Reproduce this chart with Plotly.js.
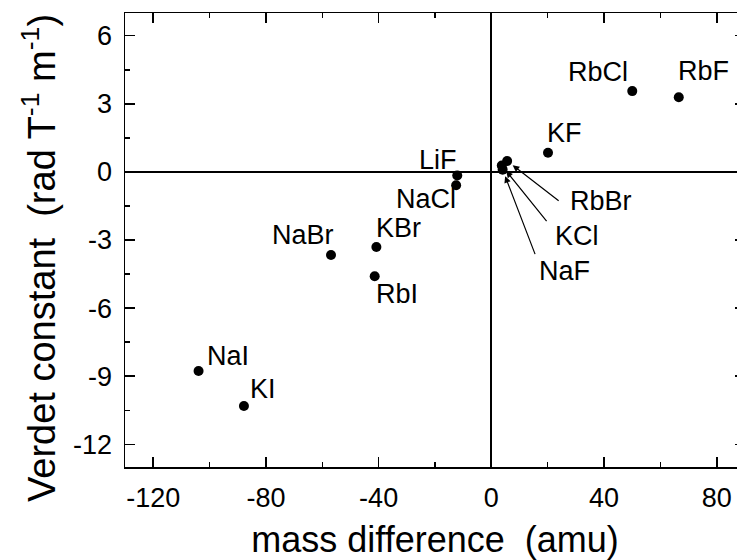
<!DOCTYPE html>
<html>
<head>
<meta charset="utf-8">
<script src="https://cdn.plot.ly/plotly-3.0.1.min.js"></script>
<style>
  html, body { margin: 0; padding: 0; overflow: hidden; background: #fff; }
  #chart { width: 760px; height: 560px; }
</style>
</head>
<body>
<div id="chart"></div>
<script>
// Alkali halides: cation-minus-anion mass difference vs Verdet constant
const salts    = ['RbF', 'RbCl', 'KF', 'RbBr', 'KCl', 'NaF', 'LiF', 'NaCl', 'KBr', 'RbI', 'NaBr', 'KI', 'NaI'];
const massDiff = [66.5, 50.0, 20.1, 5.6, 3.7, 4.0, -12.1, -12.5, -40.8, -41.4, -56.9, -87.8, -103.9];
const verdet   = [3.29, 3.56, 0.84, 0.48, 0.28, 0.10, -0.16, -0.59, -3.31, -4.60, -3.66, -10.31, -8.77];

const xTickVals = [-120, -80, -40, 0, 40, 80];
const xTickText = ['-120', '-80', '-40', '0', '40', '80'];
const yTickVals = [-12, -9, -6, -3, 0, 3, 6];
const yTickText = ['-12', '-9', '-6', '-3', '0', '3', '6'];

const xTitle = 'mass difference\u00a0\u00a0(amu)';
const yTitle = 'Verdet constant\u00a0\u00a0(rad T<sup>-1</sup> m<sup>-1</sup>)';

// label offsets in pixels from each point: [dx, dy up]
const labelShift = {
  RbF: [25, 26], RbCl: [-34, 19], KF: [16, 20], LiF: [-19, 16],
  NaCl: [-30, -14], KBr: [22, 19], RbI: [22, -18], NaBr: [-28, 20],
  NaI: [29, 15], KI: [19, 17],
  RbBr: [94, -40], KCl: [75, -70], NaF: [62, -101]
};
// crowded points near the origin get a pointer: tail offset [ax, ay] in pixels
const pointer = { RbBr: [53, 41], KCl: [46, 57], NaF: [33, 86] };

const FONT = 'Liberation Sans, Arial, Helvetica, sans-serif';

const annotations = [];
salts.forEach((s, i) => {
  const sh = labelShift[s];
  annotations.push({
    x: massDiff[i], y: verdet[i], xref: 'x', yref: 'y',
    text: s, showarrow: false, xshift: sh[0], yshift: sh[1],
    font: { family: FONT, size: 27, color: '#000' }
  });
  if (pointer[s]) {
    annotations.push({
      x: massDiff[i], y: verdet[i], xref: 'x', yref: 'y',
      text: '', showarrow: true, ax: pointer[s][0], ay: pointer[s][1],
      arrowhead: 2, arrowsize: 1.1, arrowwidth: 1.2, arrowcolor: '#000', standoff: 7
    });
  }
});

// vertical axis title, placed beside the tick labels
annotations.push({
  xref: 'paper', yref: 'paper', x: 0, y: 0.5, xanchor: 'center', yanchor: 'middle',
  xshift: -86, yshift: -18, textangle: -90, showarrow: false,
  text: yTitle, font: { family: FONT, size: 38, color: '#000' }
});

const axisCommon = {
  showgrid: false, showline: true, linecolor: '#000', linewidth: 1.5, mirror: 'ticks',
  ticks: 'inside', ticklen: 10, tickwidth: 1.5, tickcolor: '#000',
  zeroline: true, zerolinecolor: '#000', zerolinewidth: 2,
  tickfont: { family: FONT, size: 27, color: '#000' },
  tickmode: 'array'
};

const layout = {
  width: 760, height: 560,
  margin: { l: 125, r: 15, t: 13, b: 93 },
  paper_bgcolor: '#fff', plot_bgcolor: '#fff',
  showlegend: false,
  xaxis: Object.assign({}, axisCommon, {
    range: [-130, 90], tickvals: xTickVals, ticktext: xTickText,
    minor: { ticks: 'inside', ticklen: 5, tickwidth: 1.5, tickcolor: '#000', dtick: 20, tick0: 0 },
    ticklabelstandoff: 6,
    title: { text: xTitle, standoff: 22,
             font: { family: FONT, size: 36, color: '#000' } }
  }),
  yaxis: Object.assign({}, axisCommon, {
    range: [-13, 7], tickvals: yTickVals, ticktext: yTickText,
    minor: { ticks: 'inside', ticklen: 5, tickwidth: 1.5, tickcolor: '#000', dtick: 1.5, tick0: 0 },
    ticklabelstandoff: 6
  }),
  annotations: annotations
};

const trace = {
  x: massDiff, y: verdet, text: salts, type: 'scatter', mode: 'markers',
  marker: { size: 10, color: '#000' }, cliponaxis: false, hoverinfo: 'text+x+y'
};

Plotly.newPlot('chart', [trace], layout, { displayModeBar: false, staticPlot: true });
</script>
</body>
</html>
